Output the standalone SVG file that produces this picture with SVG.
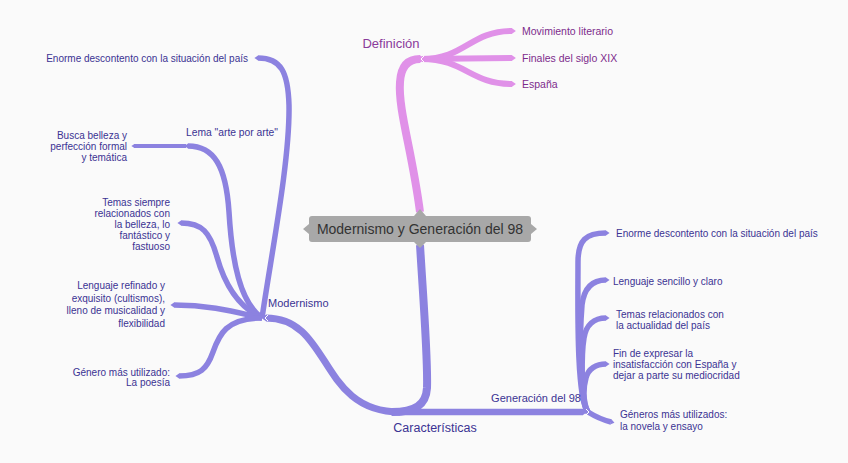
<svg xmlns="http://www.w3.org/2000/svg" width="848" height="463" viewBox="0 0 848 463">
<defs>
<marker id="tipP" viewBox="0 -0.5 0.7 1" markerWidth="0.7" markerHeight="1" refX="0.05" refY="0" orient="auto" markerUnits="strokeWidth"><path d="M0,-0.5 L0.7,0 L0,0.5 Z" fill="#8c82e0"/></marker>
<marker id="tipK" viewBox="0 -0.5 0.7 1" markerWidth="0.7" markerHeight="1" refX="0.05" refY="0" orient="auto" markerUnits="strokeWidth"><path d="M0,-0.5 L0.7,0 L0,0.5 Z" fill="#e091e8"/></marker>
</defs>
<style>
.bp{fill:none;stroke:#8c82e0;stroke-linecap:butt;marker-end:url(#tipP)}
.bk{fill:none;stroke:#e091e8;stroke-linecap:butt;marker-end:url(#tipK)}
text{font-family:"Liberation Sans",Arial,sans-serif}
.lf{font-size:10px;fill:#3b3393}
.lk{font-size:10.5px;fill:#7d2c8c}
.mid{font-size:11px;fill:#3b3393}
.big{font-size:12.5px;fill:#3b3393}
.notch{fill:none;stroke:#ffffff;stroke-width:1}
</style>
<rect width="848" height="463" fill="#fafafa"/>
<g id="connectors">
<!-- pink -->
<path class="bk" stroke-width="8" d="M420,212 C412,150 398,110 400,82 C401,66 408,59 420,59"/>
<path class="bk" stroke-width="6" d="M422,59 C465,59 470,31 512,31"/>
<path class="bk" stroke-width="6" d="M422,59 L512,58"/>
<path class="bk" stroke-width="6" d="M422,59 C465,59 470,84 512,84"/>
<!-- purple trunk -->
<path class="bp" stroke-width="8" d="M420,245 C424,310 428,360 427,388 C426,405 415,412 392,412"/>
<path class="bp" stroke-width="6.5" d="M392,412 L583,412"/>
<path class="bp" stroke-width="7" d="M400,412 C318,412 332,318 266,318"/>
<!-- Modernismo children -->
<path class="bp" stroke-width="5.5" d="M262,318 C272,250 290,160 289,105 C288,72 281,58 258,58"/>
<path class="bp" stroke-width="5.5" d="M262,318 C240,302 232,262 229,212 C226,166 214,146 188,146"/>
<path class="bp" stroke-width="4" d="M186,146 L134,146"/>
<path class="bp" stroke-width="5.5" d="M262,318 C236,306 224,282 217,257 C210,232 202,223 181,223"/>
<path class="bp" stroke-width="5.5" d="M262,318 C235,312 210,305 174,305"/>
<path class="bp" stroke-width="5.5" d="M262,318 C226,318 219,335 213,352 C207,369 200,376 179,376"/>
<!-- Generación children -->
<path class="bp" stroke-width="5.5" d="M588,412 C576,400 578,300 578,262 C578,240 586,233 606,233"/>
<path class="bp" stroke-width="5.5" d="M588,412 C578,400 580,330 582,305 C584,288 592,280 606,280"/>
<path class="bp" stroke-width="5.5" d="M588,412 C580,400 582,350 584,338 C586,325 594,318 606,318"/>
<path class="bp" stroke-width="5.5" d="M588,412 C582,400 584,385 586,378 C588,369 596,364 606,364"/>
<path class="bp" stroke-width="5.5" d="M588,412 C596,417 603,420 611,422"/>
<!-- white notches -->
<polyline class="notch" points="424,56 421,59 424,62"/>
<polyline class="notch" points="268,315 265,318 268,321"/>
<polyline class="notch" points="586,409 589,412 586,415"/>
</g>
<g id="center">
<rect x="309" y="216" width="222" height="26" rx="3" fill="#a8a8a8"/>
<path d="M309,224 L303,229 L309,234 Z M531,224 L537,229 L531,234 Z M414,216 L420,209 L426,216 Z M414,242 L420,248 L426,242 Z" fill="#a8a8a8"/>
<text x="420" y="234" text-anchor="middle" font-size="14" fill="#333333">Modernismo y Generación del 98</text>
</g>
<g id="definicion">
<text x="391" y="47.5" text-anchor="middle" font-size="13" fill="#8a3a9a">Definición</text>
</g>
<g id="def-1"><text class="lk" x="522" y="34.5">Movimiento literario</text></g>
<g id="def-2"><text class="lk" x="522" y="61.5">Finales del siglo XIX</text></g>
<g id="def-3"><text class="lk" x="522" y="87.5">España</text></g>
<g id="caracteristicas">
<text class="big" x="435" y="431.5" text-anchor="middle">Características</text>
</g>
<g id="modernismo">
<text class="mid" x="268" y="307">Modernismo</text>
</g>
<g id="generacion">
<text class="mid" x="581" y="402" text-anchor="end">Generación del 98</text>
</g>
<g id="mod-1"><text class="lf" x="248" y="61.5" text-anchor="end">Enorme descontento con la situación del país</text></g>
<g id="lema"><text x="278" y="135.5" text-anchor="end" font-size="10.3" fill="#3b3393">Lema "arte por arte"</text></g>
<g id="busca"><text class="lf" text-anchor="end"><tspan x="127" y="138.5">Busca belleza y</tspan><tspan x="127" y="149.5">perfección formal</tspan><tspan x="127" y="160.5">y temática</tspan></text></g>
<g id="mod-temas"><text class="lf" text-anchor="end"><tspan x="170" y="205.5">Temas siempre</tspan><tspan x="170" y="216.5">relacionados con</tspan><tspan x="170" y="227.5">la belleza, lo</tspan><tspan x="170" y="238.5">fantástico y</tspan><tspan x="170" y="249.5">fastuoso</tspan></text></g>
<g id="mod-lenguaje"><text class="lf" text-anchor="end"><tspan x="165" y="288.5">Lenguaje refinado y</tspan><tspan x="165" y="301.5">exquisito (cultismos),</tspan><tspan x="165" y="314">lleno de musicalidad y</tspan><tspan x="165" y="327">flexibilidad</tspan></text></g>
<g id="mod-genero"><text class="lf" text-anchor="end"><tspan x="170" y="375.5">Género más utilizado:</tspan><tspan x="170" y="386">La poesía</tspan></text></g>
<g id="gen-1"><text class="lf" x="616" y="236.5">Enorme descontento con la situación del país</text></g>
<g id="gen-2"><text class="lf" x="613" y="284.5">Lenguaje sencillo y claro</text></g>
<g id="gen-3"><text class="lf"><tspan x="616" y="317.5">Temas relacionados con</tspan><tspan x="616" y="329">la actualidad del país</tspan></text></g>
<g id="gen-4"><text class="lf"><tspan x="613" y="356.5">Fin de expresar la</tspan><tspan x="613" y="367.5">insatisfacción con España y</tspan><tspan x="613" y="378.5">dejar a parte su mediocridad</tspan></text></g>
<g id="gen-5"><text class="lf"><tspan x="620" y="417.5">Géneros más utilizados:</tspan><tspan x="620" y="429.5">la novela y ensayo</tspan></text></g>
</svg>
